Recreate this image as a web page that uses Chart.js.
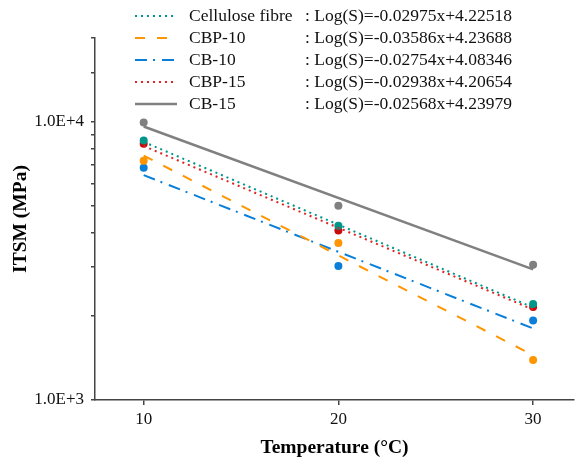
<!DOCTYPE html>
<html>
<head>
<meta charset="utf-8">
<script src="https://cdn.jsdelivr.net/npm/chart.js@4"></script>
<style>
  html, body { margin: 0; padding: 0; background: #fff; }
  #wrap { width: 578px; height: 461px; }
</style>
</head>
<body>
<div id="wrap"><canvas id="chart"></canvas></div>
<script>
// measured points (ITSM, MPa) at each test temperature
const temps = [10, 20, 30];
const celluloseFibre = [8570, 4225, 2215];
const cbp10 = [7240, 3670, 1393];
const cb10 = [6830, 3034, 1929];
const cbp15 = [8337, 4064, 2161];
const cb15 = [9943, 4988, 3060];

// trend line end points (x = 10 and x = 30)
const fitTemps = [10, 30];
const celluloseFit = [8467, 2151];
const cbp10Fit = [7554, 1449];
const cb10Fit = [6428, 1808];
const cbp15Fit = [8180, 2114];
const cb15Fit = [9616, 2947];

const seriesNames = ['Cellulose fibre', 'CBP-10', 'CB-10', 'CBP-15', 'CB-15'];
const equations = [
    ': Log(S)=-0.02975x+4.22518',
    ': Log(S)=-0.03586x+4.23688',
    ': Log(S)=-0.02754x+4.08346',
    ': Log(S)=-0.02938x+4.20654',
    ': Log(S)=-0.02568x+4.23979'
];
const yTickLabels = { 1000: '1.0E+3', 10000: '1.0E+4' };

const serif = '"Liberation Serif", "Times New Roman", serif';

const styles = [
    { color: '#00968a', point: '#00968a', dash: [2, 4], width: 2 },
    { color: '#ff9500', point: '#ff9500', dash: [10, 12], width: 2 },
    { color: '#0a7fd9', point: '#0a7fd9', dash: [12, 6, 2, 7], width: 2 },
    { color: '#e02424', point: '#c80a0a', dash: [2, 4], width: 2 },
    { color: '#808080', point: '#808080', dash: [], width: 2.5 }
];

const pointSets = [celluloseFibre, cbp10, cb10, cbp15, cb15];
const fitSets = [celluloseFit, cbp10Fit, cb10Fit, cbp15Fit, cb15Fit];

const toXY = (xs, ys) => xs.map((x, i) => ({ x: x, y: ys[i] }));

const datasets = [];
fitSets.forEach((fit, i) => {
    datasets.push({
        label: seriesNames[i] + ' fit',
        data: toXY(fitTemps, fit),
        showLine: true,
        borderColor: styles[i].color,
        borderWidth: styles[i].width,
        borderDash: styles[i].dash,
        pointRadius: 0,
        fill: false
    });
});
pointSets.forEach((vals, i) => {
    datasets.push({
        label: seriesNames[i],
        data: toXY(temps, vals),
        showLine: false,
        backgroundColor: styles[i].point,
        borderColor: styles[i].point,
        pointRadius: 4,
        pointBorderWidth: 0
    });
});

// legend with equation column
const equationLegend = {
    id: 'equationLegend',
    afterDraw(chart) {
        const ctx = chart.ctx;
        ctx.save();
        ctx.font = '17.5px ' + serif;
        ctx.fillStyle = '#111';
        ctx.textBaseline = 'middle';
        seriesNames.forEach((name, i) => {
            const y = 16 + i * 22;
            const s = styles[i];
            ctx.beginPath();
            ctx.strokeStyle = s.color;
            ctx.lineWidth = s.width;
            ctx.setLineDash(s.dash);
            ctx.moveTo(135, y);
            ctx.lineTo(177, y);
            ctx.stroke();
            ctx.setLineDash([]);
            ctx.fillText(name, 189, y);
            ctx.fillText(equations[i], 305, y);
        });
        ctx.restore();
    }
};

new Chart(document.getElementById('chart'), {
    type: 'scatter',
    data: { datasets: datasets },
    options: {
        responsive: true,
        maintainAspectRatio: false,
        animation: false,
        layout: { padding: { top: 38, right: 1, left: 0, bottom: 0 } },
        plugins: {
            legend: { display: false },
            tooltip: { enabled: false }
        },
        scales: {
            x: {
                type: 'linear',
                min: 7.5,
                max: 32.1,
                afterFit(scale) { scale.height = 61; },
                afterBuildTicks(scale) {
                    scale.ticks = temps.map(t => ({ value: t }));
                },
                grid: { drawOnChartArea: false, drawTicks: true, tickLength: 5, color: '#444', lineWidth: 1.5 },
                border: { display: true, color: '#444', width: 1.5 },
                ticks: { color: '#111', font: { family: serif, size: 17 }, padding: 4 },
                title: {
                    display: true,
                    text: 'Temperature (°C)',
                    color: '#000',
                    font: { family: serif, size: 19.5, weight: 'bold' },
                    padding: { top: 0, bottom: 1 }
                }
            },
            y: {
                type: 'logarithmic',
                min: 1000,
                max: 20000,
                afterFit(scale) { scale.width = 95; },
                grid: { drawOnChartArea: false, drawTicks: true, tickLength: 4, color: '#444', lineWidth: 1.5 },
                border: { display: true, color: '#444', width: 1.5 },
                ticks: {
                    autoSkip: false,
                    color: '#111',
                    font: { family: serif, size: 17 },
                    padding: 7,
                    callback: (v) => yTickLabels[v] || ''
                },
                title: {
                    display: true,
                    text: 'ITSM (MPa)',
                    color: '#000',
                    font: { family: serif, size: 19.5, weight: 'bold' },
                    padding: { top: 9, bottom: 0 }
                }
            }
        }
    },
    plugins: [equationLegend]
});
</script>
</body>
</html>
